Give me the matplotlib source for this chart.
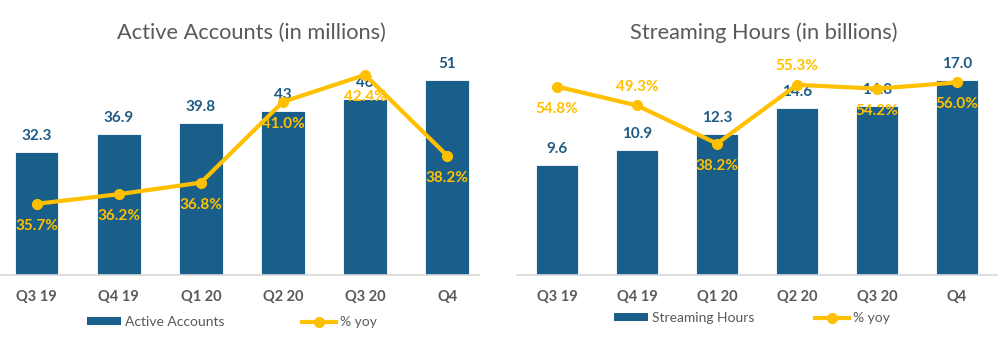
import matplotlib
matplotlib.use('Agg')
from matplotlib import pyplot as plt
from matplotlib.lines import Line2D
from matplotlib.patches import Patch

quarters = ['Q3 19', 'Q4 19', 'Q1 20', 'Q2 20', 'Q3 20', 'Q4']

accounts = [32.3, 36.9, 39.8, 43, 46, 51]
accounts_yoy = [35.7, 36.2, 36.8, 41.0, 42.4, 38.2]

hours = [9.6, 10.9, 12.3, 14.6, 14.8, 17.0]
hours_yoy = [54.8, 49.3, 38.2, 55.3, 54.2, 56.0]

BAR = '#1A5F89'
LINE = '#FFC000'
GRAY = '#595959'
FONT = 'Lato'

plt.rcParams['font.family'] = FONT


def draw_panel(fig, rect, xlim, bars, bar_fmt, bar_ylim, pct, pct_ylim, pct_pos,
               title, title_x, bar_name, legend_x, legend_sp):
    ax = fig.add_axes(rect)
    x = list(range(len(quarters)))
    ax.bar(x, bars, width=0.53, color=BAR, edgecolor='white', linewidth=0.6, zorder=2)
    ax.set_xlim(*xlim)
    ax.set_ylim(*bar_ylim)
    ax.set_yticks([])
    ax.set_xticks(x)
    ax.set_xticklabels(quarters, fontsize=10.5, fontweight='bold', color=GRAY)
    ax.tick_params(axis='x', length=0, pad=11)
    for s in ['top', 'right', 'left']:
        ax.spines[s].set_visible(False)
    ax.spines['bottom'].set_color('#D9D9D9')
    ax.spines['bottom'].set_linewidth(1.2)
    for xi, v in zip(x, bars):
        ax.annotate(format(v, bar_fmt), (xi, v), xytext=(0, 11.5), textcoords='offset points',
                    ha='center', va='center', fontsize=11, fontweight='bold', color='#1F5A85',
                    zorder=3)

    ax2 = ax.twinx()
    ax2.set_ylim(*pct_ylim)
    ax2.set_yticks([])
    for s in ['top', 'right', 'left', 'bottom']:
        ax2.spines[s].set_visible(False)
    ax2.plot(x, pct, color=LINE, linewidth=3, marker='o', markersize=7, zorder=4)
    for xi, v, p in zip(x, pct, pct_pos):
        dy = 13.5 if p == 'above' else -15.8
        ax2.annotate('%.1f%%' % v, (xi, v), xytext=(0, dy), textcoords='offset points',
                     ha='center', va='center', fontsize=11, fontweight='bold', color=LINE,
                     zorder=5)

    fig.text(title_x, 1 - 33 / 337, title, ha='center', va='center', fontsize=15.7, color=GRAY)

    handles = [Patch(facecolor=BAR, edgecolor='none', label=bar_name),
               Line2D([0], [0], color=LINE, linewidth=3, marker='o', markersize=7, label='% yoy')]
    ax.legend(handles=handles, ncol=2, loc='center', bbox_to_anchor=legend_x,
              bbox_transform=fig.transFigure, frameon=False, fontsize=10,
              handlelength=2.4, handleheight=0.5, handletextpad=0.3,
              columnspacing=legend_sp, labelcolor=GRAY)
    return ax


fig = plt.figure(figsize=(10.05, 3.37), dpi=100)
W, H = 1005, 337

draw_panel(fig, [0, 62 / H, 479 / W, 229 / H], (-0.447, 5.387),
           accounts, 'g', (0, 60), accounts_yoy, (32.0, 43.9),
           ['below'] * 6,
           'Active Accounts (in millions)', 251 / W, 'Active Accounts',
           (232 / W, 15 / H), 5.6)

draw_panel(fig, [517 / W, 62 / H, 480 / W, 229 / H], (-0.5, 5.5),
           hours, '.1f', (0, 20), hours_yoy, (0, 66.6),
           ['below', 'above', 'below', 'above', 'below', 'below'],
           'Streaming Hours (in billions)', 764 / W, 'Streaming Hours',
           (752 / W, 19 / H), 4.4)

plt.savefig('out.png', dpi=100)
